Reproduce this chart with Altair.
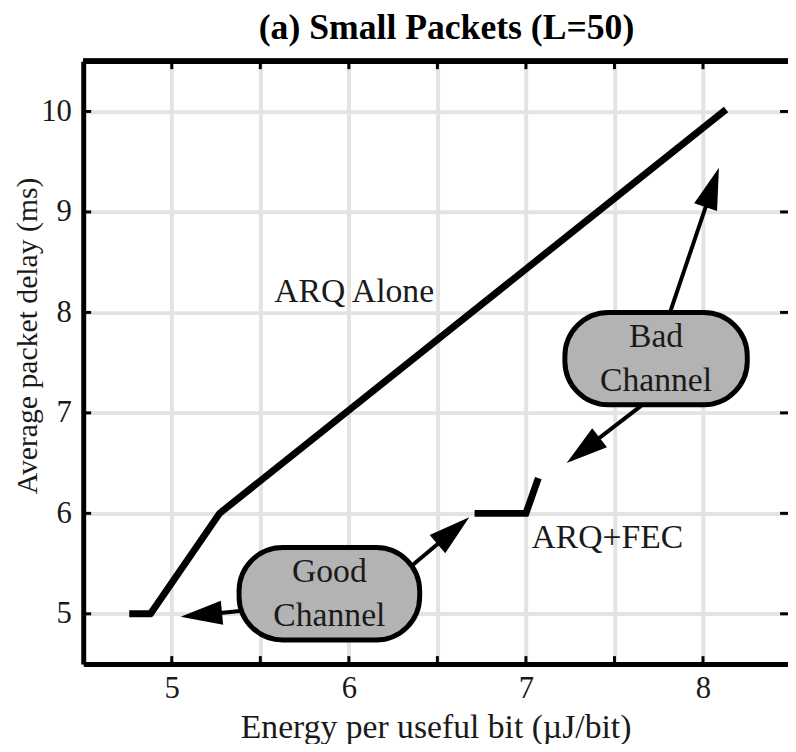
import math
import altair as alt
import pandas as pd

# ---------------- data ----------------
X_DOMAIN = [4.5, 8.48]
Y_DOMAIN = [4.5, 10.5]
W, H = 712, 609

arq_energy = [4.76, 4.88, 5.27, 8.13]
arq_delay = [5.0, 5.0, 6.0, 10.02]
fec_energy = [6.71, 7.0, 7.07]
fec_delay = [6.0, 6.0, 6.35]

x_tick_values = [5, 5.5, 6, 6.5, 7, 7.5, 8]
y_tick_values = [5, 6, 7, 8, 9, 10]

series_labels = ["ARQ Alone", "ARQ+FEC"]
label_x = [6.03, 7.46]
label_y = [8.10, 5.655]

bubble_text = ["Good\nChannel", "Bad\nChannel"]
bubble_x0 = [5.38, 7.22]
bubble_x1 = [6.40, 8.25]
bubble_y0 = [4.74, 7.08]
bubble_y1 = [5.66, 8.00]

arrow_tail_x = [5.40, 6.35, 7.81, 7.65]
arrow_tail_y = [5.03, 5.47, 7.98, 7.07]
arrow_tip_x = [5.05, 6.68, 8.09, 7.23]
arrow_tip_y = [4.97, 5.96, 9.44, 6.50]

FONT = "Liberation Serif"
TEXT_COLOR = "#1a1a1a"
HEAD_LEN = 42

# ---------------- derived tables ----------------
xs = alt.Scale(domain=X_DOMAIN, nice=False, zero=False)
ys = alt.Scale(domain=Y_DOMAIN, nice=False, zero=False)

arq_df = pd.DataFrame({"e": arq_energy, "d": arq_delay})
fec_df = pd.DataFrame({"e": fec_energy, "d": fec_delay})
lab_df = pd.DataFrame({"t": series_labels, "x": label_x, "y": label_y})
bub_df = pd.DataFrame({"t": bubble_text, "x0": bubble_x0, "x1": bubble_x1,
                       "y0": bubble_y0, "y1": bubble_y1})
bub_df["xc"] = (bub_df.x0 + bub_df.x1) / 2
bub_df["yc"] = (bub_df.y0 + bub_df.y1) / 2

px_x = W / (X_DOMAIN[1] - X_DOMAIN[0])
px_y = H / (Y_DOMAIN[1] - Y_DOMAIN[0])
rows = []
for tx, ty, hx, hy in zip(arrow_tail_x, arrow_tail_y, arrow_tip_x, arrow_tip_y):
    dx = (hx - tx) * px_x
    dy = -(hy - ty) * px_y
    L = math.hypot(dx, dy)
    ang = math.degrees(math.atan2(dx, -dy)) % 360
    f = 1 - (HEAD_LEN * 0.6) / L
    rows.append({"tx": tx, "ty": ty, "hx": hx, "hy": hy,
                 "sx": tx + (hx - tx) * f, "sy": ty + (hy - ty) * f,
                 "ang": ang})
arr_df = pd.DataFrame(rows)

xt_df = pd.DataFrame({"v": x_tick_values})
yt_df = pd.DataFrame({"v": y_tick_values})

# ---------------- axes ----------------
XT = "Energy per useful bit (\u00b5J/bit)"
YT = "Average packet delay (ms)"
AX = alt.Axis(
    values=x_tick_values,
    labelExpr="datum.value % 1 == 0 ? format(datum.value, 'd') : ''",
    grid=True, gridColor="#e3e3e3", gridWidth=4,
    ticks=False, tickSize=0,
    domain=True, domainColor="black", domainWidth=5,
    labelFont=FONT, labelFontSize=31, labelColor=TEXT_COLOR, labelPadding=10,
    title=XT,
    titleFont=FONT, titleFontSize=34, titleFontWeight="normal",
    titleColor=TEXT_COLOR, titlePadding=7,
)
AY = alt.Axis(
    values=y_tick_values,
    grid=True, gridColor="#e3e3e3", gridWidth=4,
    ticks=False, tickSize=0,
    domain=True, domainColor="black", domainWidth=5,
    labelFont=FONT, labelFontSize=31, labelColor=TEXT_COLOR, labelPadding=12,
    title=YT,
    titleFont=FONT, titleFontSize=30, titleFontWeight="normal",
    titleColor=TEXT_COLOR, titlePadding=-2, titleY=277,
)


def X(f):
    return alt.X(f, scale=xs, axis=AX, title=XT)


def Y(f):
    return alt.Y(f, scale=ys, axis=AY, title=YT)


# ---------------- layers ----------------
arq = alt.Chart(arq_df).mark_line(color="black", strokeWidth=7, strokeJoin="round").encode(
    x=X("e:Q"), y=Y("d:Q"))
fec = alt.Chart(fec_df).mark_line(color="black", strokeWidth=7, strokeJoin="miter").encode(
    x=X("e:Q"), y=Y("d:Q"))

top_frame = alt.Chart(xt_df).mark_rule(color="black", strokeWidth=5).encode(
    x=alt.datum(X_DOMAIN[0], type="quantitative", scale=xs, axis=AX, title=XT),
    x2=alt.datum(X_DOMAIN[1]),
    y=alt.value(0),
)

tick_style = dict(color="black", size=8, thickness=3, opacity=1)
bottom_ticks = alt.Chart(xt_df).mark_tick(orient="vertical", yOffset=-4, **tick_style).encode(
    x=X("v:Q"), y=alt.value(H))
top_ticks = alt.Chart(xt_df).mark_tick(orient="vertical", yOffset=4, **tick_style).encode(
    x=X("v:Q"), y=alt.value(0))
left_ticks = alt.Chart(yt_df).mark_tick(orient="horizontal", xOffset=4, **tick_style).encode(
    y=Y("v:Q"), x=alt.value(0))
right_ticks = alt.Chart(yt_df).mark_tick(orient="horizontal", xOffset=-4, **tick_style).encode(
    y=Y("v:Q"), x=alt.value(W))

labels = alt.Chart(lab_df).mark_text(
    font=FONT, fontSize=34, color=TEXT_COLOR, align="center", baseline="alphabetic"
).encode(x=X("x:Q"), y=Y("y:Q"), text="t:N")

bubbles = alt.Chart(bub_df).mark_rect(
    cornerRadius=44, fill="#b3b3b3", stroke="black", strokeWidth=5, opacity=1
).encode(x=X("x0:Q"), x2="x1:Q", y=Y("y0:Q"), y2="y1:Q")

bubble_txt = alt.Chart(bub_df).mark_text(
    font=FONT, fontSize=34, color=TEXT_COLOR, align="center", baseline="middle",
    lineBreak="\n", lineHeight=45, dy=-22
).encode(x=X("xc:Q"), y=Y("yc:Q"), text="t:N")

shafts = alt.Chart(arr_df).mark_rule(color="black", strokeWidth=4).encode(
    x=X("tx:Q"), x2="sx:Q", y=Y("ty:Q"), y2="sy:Q")

heads = alt.Chart(arr_df).mark_point(
    shape="M0,0L0.29,1L-0.29,1Z", filled=True, size=4 * HEAD_LEN ** 2,
    color="black", opacity=1, strokeWidth=0
).encode(x=X("hx:Q"), y=Y("hy:Q"), angle=alt.Angle("ang:Q", scale=None))

chart = alt.layer(
    arq, fec, top_frame, bottom_ticks, top_ticks, left_ticks, right_ticks,
    labels, shafts, heads, bubbles, bubble_txt,
).properties(
    width=W, height=H,
    autosize=alt.AutoSizeParams(type="none"),
    padding={"left": 76, "top": 50, "right": 0, "bottom": 77},
    title=alt.TitleParams(
        "(a) Small Packets (L=50)", font=FONT, fontSize=36, fontWeight="bold",
        color="black", anchor="middle", frame="group", dx=11, dy=36, offset=12,
        baseline="bottom",
    ),
).configure_view(stroke=None).configure(background="white")

chart.save("out.html", embed_options={"renderer": "svg", "actions": False})
